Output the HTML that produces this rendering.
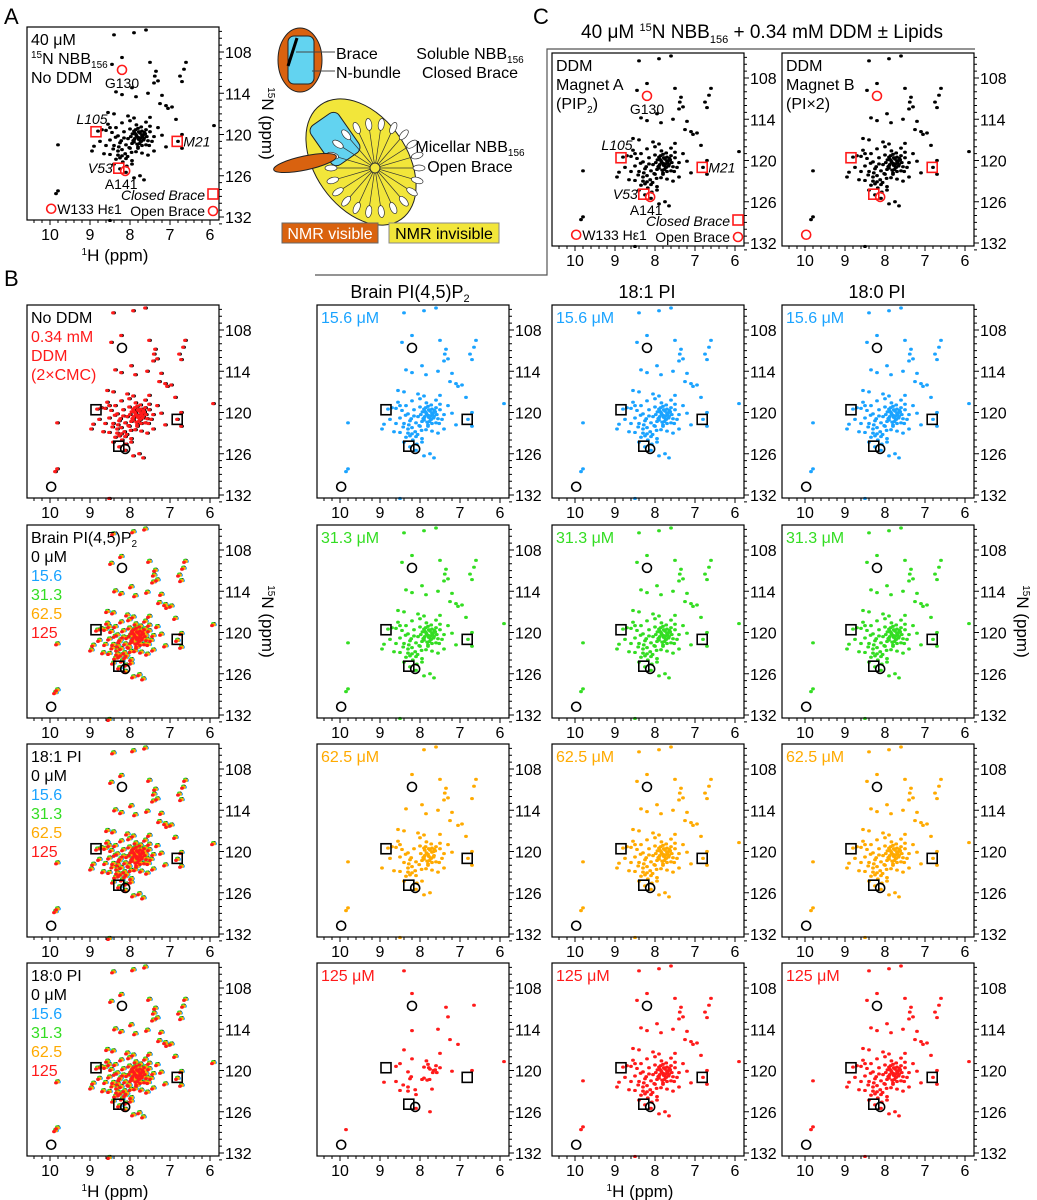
<!DOCTYPE html>
<html><head><meta charset="utf-8">
<style>
html,body{margin:0;padding:0;background:#fff;}
svg{display:block;font-family:"Liberation Sans",Arial,sans-serif;}
</style></head>
<body>
<svg id="fig" width="1037" height="1200" viewBox="0 0 1037 1200" xmlns="http://www.w3.org/2000/svg">
<text x="4" y="24" font-size="22">A</text>
<text x="4" y="286" font-size="22">B</text>
<text x="533" y="24" font-size="22">C</text>

<g>
  <ellipse cx="300" cy="60" rx="22" ry="32" fill="#d9620f" stroke="#222" stroke-width="1"/>
  <rect x="288" y="36" rx="6" width="26" height="48" fill="#62d3f0" stroke="#222" stroke-width="1"/>
  <line x1="297" y1="38" x2="288" y2="66" stroke="#000" stroke-width="3"/>
  <line x1="296" y1="52" x2="335" y2="52" stroke="#444" stroke-width="1"/>
  <line x1="312" y1="71" x2="335" y2="71" stroke="#444" stroke-width="1"/>
  <text x="336" y="59" font-size="16">Brace</text>
  <text x="336" y="78" font-size="16">N-bundle</text>
  <text x="470" y="59" font-size="16" text-anchor="middle">Soluble NBB<tspan font-size="10" dy="4">156</tspan></text>
  <text x="470" y="78" font-size="16" text-anchor="middle">Closed Brace</text>
  <g transform="translate(361,162) rotate(-35)">
    <ellipse cx="0" cy="0" rx="46" ry="70" fill="#f2e63a" stroke="#222" stroke-width="1"/>
  </g>
  <rect x="318" y="115" width="34" height="48" rx="7" fill="#62d3f0" stroke="#222" transform="rotate(-35 335 139)"/>
  <g id="spokes"></g>
  <ellipse cx="305" cy="163" rx="32" ry="7" fill="#d9620f" stroke="#222" transform="rotate(-12 305 163)"/>
  <text x="470" y="152" font-size="16" text-anchor="middle">Micellar NBB<tspan font-size="10" dy="4">156</tspan></text>
  <text x="470" y="172" font-size="16" text-anchor="middle">Open Brace</text>
  <rect x="282" y="223" width="96" height="20" fill="#d9620f" stroke="#666"/>
  <text x="330" y="239" font-size="16" fill="#fff" text-anchor="middle">NMR visible</text>
  <rect x="389" y="223" width="110" height="20" fill="#f2e63a" stroke="#888"/>
  <text x="444" y="239" font-size="16" text-anchor="middle">NMR invisible</text>
</g>

<text x="762" y="38" font-size="19" text-anchor="middle">40 μM <tspan font-size="11" dy="-7">15</tspan><tspan dy="7">N NBB</tspan><tspan font-size="11" dy="5">156</tspan><tspan dy="-5"> + 0.34 mM DDM ± Lipids</tspan></text>
<polyline points="975,49 547,49 547,275 315,275" fill="none" stroke="#555" stroke-width="1.2"/>

<text x="410" y="298" font-size="18" text-anchor="middle">Brain PI(4,5)P<tspan font-size="11" dy="4">2</tspan></text>
<text x="647" y="298" font-size="18" text-anchor="middle">18:1 PI</text>
<text x="877" y="298" font-size="18" text-anchor="middle">18:0 PI</text>
<g id="panels"></g>
</svg>
<script>
// peak list: 1H ppm
const peakH = [8.4,7.9,7.6,8.2,7.5,8.45,7.35,7.38,7.4,7.3,6.75,6.7,6.65,6.6,8.35,8.2,7.95,7.85,7.55,7.2,7.1,7.05,6.95,6.85,7.5,7.6,8.55,8.4,8.05,7.9,8.2,8.8,8.7,8.6,8.45,8.35,8.3,8.15,8.0,7.9,7.85,7.8,7.75,7.7,7.65,7.8,7.72,7.9,7.95,7.6,7.55,7.5,7.45,7.3,7.2,7.1,6.8,6.7,6.7,8.75,8.6,8.5,8.4,8.25,8.1,8.0,8.3,8.2,8.35,8.1,7.95,7.85,7.7,7.55,7.4,8.9,8.95,8.65,8.5,8.4,8.25,8.1,7.95,7.9,7.75,7.65,9.8,9.85,8.5,9.8,5.9,7.5,8.0,7.25,8.55,8.15,7.6,7.98,7.7,7.82,8.05,7.4,8.5,7.88,7.78,7.68,8.02,7.92,
 7.62,7.66,7.74,7.78,7.84,7.86,7.9,7.94,7.7,7.76,7.8,7.64,7.58,7.52,7.72,7.84,7.96,8.06,8.12,8.2,8.25,8.3,8.18,8.08,8.22,8.28,8.36,8.42,7.74,7.8,7.66,7.88];
// peak list: 15N ppm
const peakN = [105.5,105.2,104.8,108.8,109.5,109.8,110.8,111.5,112.5,112.2,111.5,112.3,110.5,109.5,113.8,114.2,113.2,114.5,114.0,114.3,115.8,116.2,116.0,117.8,117.5,118.2,116.8,117.0,117.3,117.6,118.3,119.5,119.3,119.4,119.7,119.0,120.2,119.6,119.2,119.5,120.0,120.4,119.8,120.1,120.6,119.1,121.0,120.8,121.3,121.5,120.9,119.6,121.0,119.0,120.1,121.8,121.0,120.0,122.0,121.0,121.6,120.8,121.6,121.2,121.5,122.0,122.4,123.1,123.6,123.5,123.8,122.5,122.7,123.0,122.4,121.7,122.4,122.8,122.9,124.3,125.0,125.5,124.3,126.3,126.0,126.6,128.2,128.6,132.5,121.5,118.7,118.8,118.0,115.5,118.5,120.5,119.3,120.3,119.5,121.4,120.6,120.3,119.0,119.8,120.7,120.3,121.9,120.9,
 119.9,120.8,120.5,119.6,120.2,119.3,121.1,119.9,121.6,121.3,122.0,119.7,120.3,121.6,118.9,118.6,122.6,123.2,122.8,122.2,123.4,123.0,124.0,124.6,120.9,121.8,120.4,122.1,120.9,121.8,120.0,120.6];
// reference residue markers
const sqH = [8.85, 8.28, 6.82];
const sqN = [119.6, 124.9, 121.0];
const ciH = [8.2, 8.12, 9.97];
const ciN = [110.6, 125.3, 130.8];
const xTicks = [10, 9, 8, 7, 6];
const yTicks = [108, 114, 120, 126, 132];
const concLabels = ["0 μM", "15.6", "31.3", "62.5", "125"];

const C = {blue:"#1aa3ff", green:"#33dd22", orange:"#ffaa00", red:"#ff1a1a", black:"#000"};
const NS = "http://www.w3.org/2000/svg";
const root = document.getElementById("panels");
function mk(tag, attrs, parent){ const e=document.createElementNS(NS,tag); for(const k in attrs) e.setAttribute(k,attrs[k]); (parent||root).appendChild(e); return e; }
function txt(parent, x, y, s, size, fill, anchor, style){ const t=mk("text",{x:x,y:y,"font-size":size,fill:fill||"#000","text-anchor":anchor||"start"},parent); if(style) t.setAttribute("font-style",style); t.textContent=s; return t; }

(function(){
  const g=document.getElementById("spokes");
  const cx=375, cy=168;
  for(let i=0;i<22;i++){
    const a=i/22*Math.PI*2;
    mk("line",{x1:cx,y1:cy,x2:cx+Math.cos(a)*38,y2:cy+Math.sin(a)*38,stroke:"#333","stroke-width":0.7},g);
    const ex=cx+Math.cos(a)*44, ey=cy+Math.sin(a)*44;
    mk("ellipse",{cx:ex,cy:ey,rx:3,ry:6,fill:"#fff",stroke:"#333","stroke-width":0.7,transform:`rotate(${a*180/Math.PI+90} ${ex} ${ey})`},g);
  }
  mk("circle",{cx:cx,cy:cy,r:5,fill:"#f2e63a",stroke:"#333"},g);
})();

function panel(name, left, top, o){
  const W=192, H=193;
  const g=mk("g",{});
  
  
  const sx = p => left + 23 + (10 - p) * 40;
  const sy = n => top + 25 + (n - 108) * 6.875;
  (o.layers||[]).forEach(L=>{
    peakH.forEach((h,i)=>{
      if(L.filter && !L.filter(i)) return;
      if(peakN[i]===undefined) return;
      const e=mk("ellipse",{cx:sx(h)+(L.dx||0),cy:sy(peakN[i])+(L.dy||0),rx:1.9,ry:1.6,fill:L.color},g);
      
      
    });
  });
  const mc = o.markerColor||"#000";
  sqH.forEach((h,i)=>{
    const r=mk("rect",{x:sx(h)-5,y:sy(sqN[i])-5,width:10,height:10,fill:"none",stroke:mc,"stroke-width":1.6},g);
    
    
  });
  ciH.forEach((h,i)=>{
    const c=mk("circle",{cx:sx(h),cy:sy(ciN[i]),r:4.5,fill:"none",stroke:mc,"stroke-width":1.6},g);
    
    
  });
  mk("rect",{x:left,y:top,width:W,height:H,fill:"none",stroke:"#000","stroke-width":1.2},g);
  for(let p=10.4;p>=5.85;p-=0.2){
    const major=Math.abs(p-Math.round(p))<0.01;
    mk("line",{x1:sx(p),y1:top+H,x2:sx(p),y2:top+H+(major?5:3),stroke:"#000","stroke-width":1},g);
  }
  xTicks.forEach(p=>{ const t=txt(g,sx(p),top+H+20,String(p),16,"#000","middle");   });
  for(let n=105;n<=133;n+=1){
    const major=(n-108)%6===0;
    mk("line",{x1:left+W,y1:sy(n),x2:left+W+(major?5:3),y2:sy(n),stroke:"#000","stroke-width":1},g);
  }
  yTicks.forEach(n=>{ const t=txt(g,left+W+6,sy(n)+6,String(n),16,"#000","start");   });
  if(o.xTitle){ const t=mk("text",{x:left+W/2-8,y:top+H+41,"font-size":17,"text-anchor":"middle"},g); t.innerHTML='<tspan font-size="10" dy="-6">1</tspan><tspan dy="6">H (ppm)</tspan>';   }
  if(o.yTitle){ const cx=left+W+43, cy=top+H/2; const t=mk("text",{x:cx,y:cy,"font-size":17,"text-anchor":"middle",transform:`rotate(90 ${cx} ${cy})`},g); t.innerHTML='<tspan font-size="10" dy="-6">15</tspan><tspan dy="6">N (ppm)</tspan>';   }
  (o.labels||[]).forEach((l,i)=>{ const t=txt(g,left+4,top+18+i*19,"",16,l[1]); t.innerHTML=l[0];   });
  if(o.ann) o.ann(g, sx, sy);
  return g;
}

const colX=[27,317,552,782];
const rowY=[305,525,744,963];
const T=[C.blue,C.green,C.orange,C.red];
const overlay=[{color:C.black},{color:C.blue,dx:1,dy:1},{color:C.green,dx:-1,dy:0},{color:C.orange,dx:0,dy:1},{color:C.red,dx:-2,dy:2}];

function annot(g,sx,sy,left,top){
  const r="#ff1a1a";
  txt(g,sx(8.2),sy(110.6)+18,"G130",14,"#000","middle");
  txt(g,sx(8.85)-4,sy(119.6)-8,"L105",14,"#000","middle","italic");
  txt(g,sx(6.82)+6,sy(121.0)+5,"M21",14,"#000","start","italic");
  txt(g,sx(8.28)-6,sy(124.9)+5,"V53",14,"#000","end","italic");
  txt(g,sx(8.12)-4,sy(125.3)+18,"A141",14,"#000","middle");
  txt(g,sx(9.97)+6,sy(130.8)+5,"W133 Hε1",14,"#000","start");
  txt(g,left+178,top+173,"Closed Brace",14,"#000","end","italic");
  mk("rect",{x:left+181,y:top+162,width:10,height:10,fill:"none",stroke:r,"stroke-width":1.6},g);
  txt(g,left+178,top+189,"Open Brace",14,"#000","end");
  mk("circle",{cx:left+186,cy:top+184,r:4.5,fill:"none",stroke:r,"stroke-width":1.6},g);
}

panel("panel-a-spectrum",27,27,{layers:[{color:C.black}],markerColor:"#ff1a1a",xTitle:true,yTitle:true,
  labels:[["40 μM"],['<tspan font-size="10" dy="-6">15</tspan><tspan dy="6">N NBB</tspan><tspan font-size="10" dy="4">156</tspan>'],["No DDM"]],
  ann:(g,sx,sy)=>annot(g,sx,sy,27,27)});
panel("panel-c-magnet-a",552,53,{layers:[{color:C.black}],markerColor:"#ff1a1a",
  labels:[["DDM"],["Magnet A"],['(PIP<tspan font-size="10" dy="4">2</tspan><tspan dy="-4">)</tspan>']],
  ann:(g,sx,sy)=>annot(g,sx,sy,552,53)});
panel("panel-c-magnet-b",782,53,{layers:[{color:C.black}],markerColor:"#ff1a1a",
  labels:[["DDM"],["Magnet B"],["(PI×2)"]]});

panel("panel-b-ddm",colX[0],rowY[0],{layers:[{color:C.black},{color:C.red,dx:-1,dy:0}],
  labels:[["No DDM","#000"],["0.34 mM",C.red],["DDM",C.red],["(2×CMC)",C.red]]});
const lipidNames=['Brain PI(4,5)P<tspan font-size="10" dy="4">2</tspan>',"18:1 PI","18:0 PI"];
for(let r=1;r<4;r++){
  panel("panel-b-overlay-row"+r,colX[0],rowY[r],{layers:overlay,xTitle:r===3,yTitle:r===1,
    labels:[[lipidNames[r-1],"#000"],[concLabels[0],"#000"],[concLabels[1],C.blue],[concLabels[2],C.green],[concLabels[3],C.orange],[concLabels[4],C.red]]});
}
const concs=["15.6 μM","31.3 μM","62.5 μM","125 μM"];
for(let c=1;c<4;c++){
  for(let r=0;r<4;r++){
    let layer={color:T[r]};
    if(c===1 && r===3) layer.filter=(i)=>i%3===0;
    if(c===1 && r===2) layer.filter=(i)=>i%5!==0;
    panel(`panel-b-col${c}-row${r}`,colX[c],rowY[r],{layers:[layer],
      xTitle:(c===2&&r===3),yTitle:(c===3&&r===1),labels:[[concs[r],T[r]]]});
  }
}
</script>
</body></html>
